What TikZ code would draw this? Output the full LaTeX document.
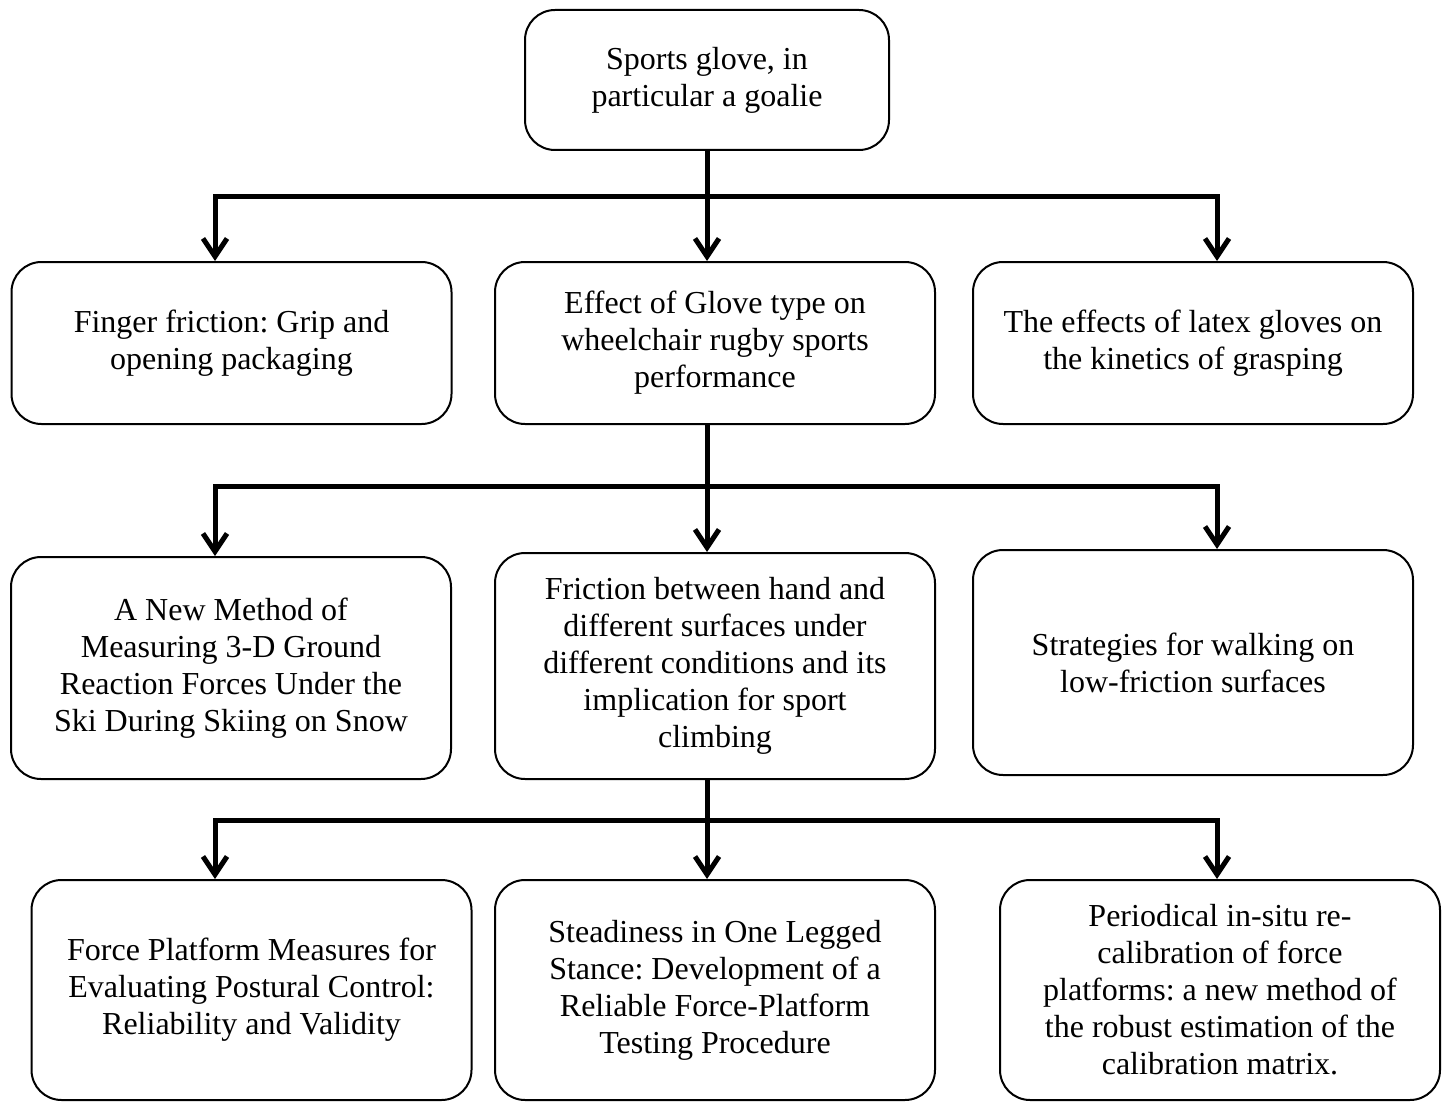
\documentclass[tikz,border=0pt]{standalone}
\usepackage{fontspec}
\setmainfont{Liberation Serif}
\usepackage{tikz}
\usetikzlibrary{arrows.meta}
\frenchspacing

\begin{document}
\begin{tikzpicture}[x=0.5pt, y=-0.5pt,
  font=\fontsize{16}{18.5}\selectfont,
  bx/.style={rectangle, draw, line width=1pt, rounded corners=15pt,
             align=center, inner sep=0pt, minimum width=220pt},
  ln/.style={line width=2.5pt, line cap=rect},
  ar/.style={line width=2.5pt, -{Straight Barb[length=9pt, width=12pt]}}]
\useasboundingbox (0,0) rectangle (1447,1102);
\node[bx, minimum width=182pt, minimum height=70pt] (top) at (707,80) {Sports glove, in\\particular a goalie};
\node[bx, minimum height=81pt] (fing) at (231.5,343) {Finger friction: Grip and\\opening packaging};
\node[bx, minimum height=81pt] (glove) at (715,343) {Effect of Glove type on\\wheelchair rugby sports\\performance};
\node[bx, minimum height=81pt] (latex) at (1193,343) {The effects of latex gloves on\\the kinetics of grasping};
\node[bx, minimum height=111pt] (ski) at (231,668) {A New Method of\\Measuring 3-D Ground\\Reaction Forces Under the\\Ski During Skiing on Snow};
\node[bx, minimum height=113pt] (climb) at (715,666) {Friction between hand and\\different surfaces under\\different conditions and its\\implication for sport\\climbing};
\node[bx, minimum height=112.5pt] (walk) at (1193,662.5) {Strategies for walking on\\low-friction surfaces};
\node[bx, minimum height=110pt] (postur) at (251.5,990) {Force Platform Measures for\\Evaluating Postural Control:\\Reliability and Validity};
\node[bx, minimum height=110pt] (stance) at (715,990) {Steadiness in One Legged\\Stance: Development of a\\Reliable Force-Platform\\Testing Procedure};
\node[bx, minimum height=110pt] (calib) at (1220,990) {Periodical in-situ re-\\calibration of force\\platforms: a new method of\\the robust estimation of the\\calibration matrix.};
\coordinate (b1l) at (215,197); \coordinate (b1m) at (707,197); \coordinate (b1r) at (1217,197);
\coordinate (b2l) at (215,486); \coordinate (b2m) at (707,486); \coordinate (b2r) at (1217,486);
\coordinate (b3l) at (215,820); \coordinate (b3m) at (707,820); \coordinate (b3r) at (1217,820);
\draw[ln] (b1l) -- (b1r);
\draw[ar] (top.south) -- (b1m |- glove.north);
\draw[ar] (b1l) -- (b1l |- fing.north);
\draw[ar] (b1r) -- (b1r |- latex.north);
\draw[ln] (b2l) -- (b2r);
\draw[ar] (b2m |- glove.south) -- (b2m |- climb.north);
\draw[ar] (b2l) -- (b2l |- ski.north);
\draw[ar] (b2r) -- (b2r |- walk.north);
\draw[ln] (b3l) -- (b3r);
\draw[ar] (b3m |- climb.south) -- (b3m |- stance.north);
\draw[ar] (b3l) -- (b3l |- postur.north);
\draw[ar] (b3r) -- (b3r |- calib.north);
\end{tikzpicture}
\end{document}
